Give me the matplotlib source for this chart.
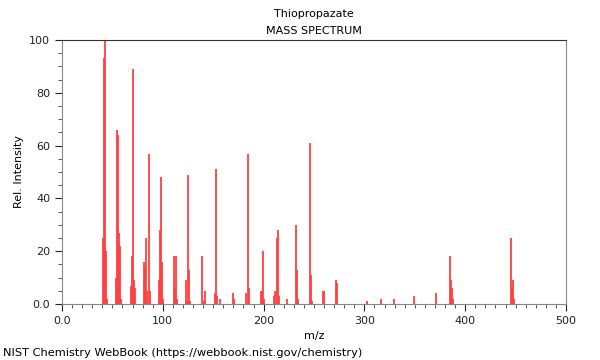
import matplotlib
matplotlib.use("Agg")
import matplotlib.pyplot as plt
from matplotlib.ticker import MultipleLocator, FixedFormatter, FixedLocator

compound = "Thiopropazate"

mz = [41, 42, 43, 44, 45,
      54, 55, 56, 57, 58, 59,
      68, 69, 70, 71, 72,
      81, 82, 83, 84, 86, 87,
      96, 97, 98, 99, 100,
      111, 112, 113, 114,
      123, 124, 125, 126, 127,
      139, 141, 142,
      152, 153, 154, 157,
      170, 171,
      183, 185, 186,
      197, 198, 199, 200,
      210, 211, 213, 214, 215,
      223,
      232, 233, 234,
      246, 247, 248,
      259, 260,
      272, 273,
      303, 316, 329, 349, 371,
      385, 386, 387, 388,
      445, 446, 447, 448]

intensity = [25, 93, 100, 20, 2,
             10, 66, 64, 27, 22, 2,
             7, 18, 89, 9, 6,
             16, 14, 25, 5, 57, 5,
             9, 28, 48, 16, 2,
             18, 6, 18, 2,
             9, 1, 49, 13, 1,
             18, 1, 5,
             4, 51, 3, 2,
             4, 2,
             4, 57, 6,
             5, 5, 20, 2,
             3, 5, 25, 28, 3,
             2,
             30, 13, 2,
             61, 11, 1,
             5, 5,
             9, 8,
             1, 2, 2, 3, 4,
             18, 9, 6, 2,
             25, 6, 9, 2]

x_ticks = [0, 100, 200, 300, 400, 500]
x_labels = ["0.0", "100", "200", "300", "400", "500"]
y_ticks = [0, 20, 40, 60, 80, 100]
y_labels = ["0.0", "20", "40", "60", "80", "100"]

fig = plt.figure(figsize=(6, 3.6), dpi=100)
ax = fig.add_axes([0.1033, 0.1556, 0.84, 0.7333])

ax.vlines(mz, 0, intensity, colors="#ff4040", linewidth=1.3)

ax.set_xlim(0, 500)
ax.set_ylim(0, 100)

ax.xaxis.set_major_locator(FixedLocator(x_ticks))
ax.xaxis.set_major_formatter(FixedFormatter(x_labels))
ax.xaxis.set_minor_locator(MultipleLocator(10))
ax.yaxis.set_major_locator(FixedLocator(y_ticks))
ax.yaxis.set_major_formatter(FixedFormatter(y_labels))
ax.yaxis.set_minor_locator(MultipleLocator(5))

ax.tick_params(which="major", length=5, width=0.8, labelsize=8, colors="#222222")
ax.tick_params(which="minor", length=3, width=0.6, colors="#444444")

for side in ["left", "bottom", "right"]:
    ax.spines[side].set_color("#888888")
ax.spines["top"].set_color("#333333")

ax.set_xlabel("m/z", fontsize=8)
ax.set_ylabel("Rel. Intensity", fontsize=8)

fig.text(0.523, 0.962, compound, ha="center", va="center", fontsize=8)
fig.text(0.523, 0.915, "MASS SPECTRUM", ha="center", va="center", fontsize=8)
fig.text(0.005, 0.02, "NIST Chemistry WebBook (https://webbook.nist.gov/chemistry)",
         ha="left", va="center", fontsize=8.2)

fig.savefig("out.png", dpi=100)
